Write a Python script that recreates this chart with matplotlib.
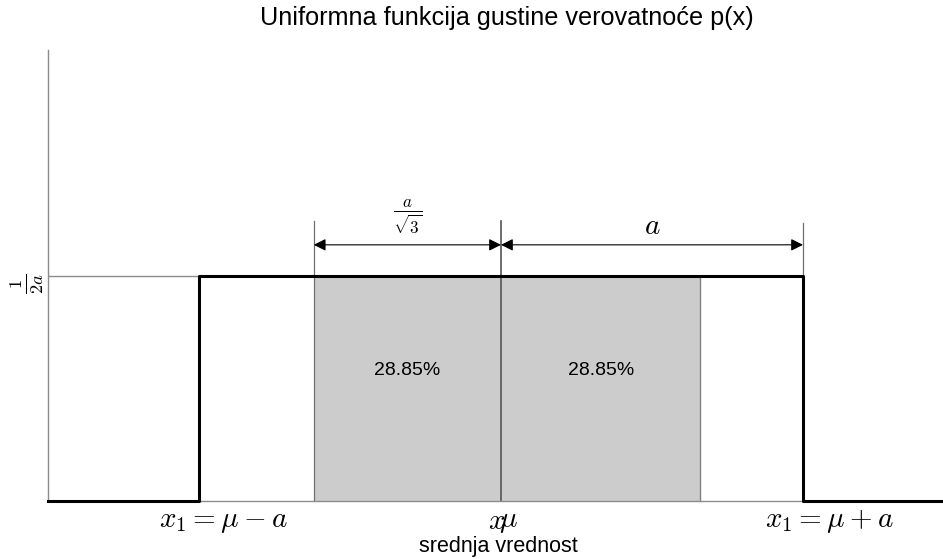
import matplotlib
matplotlib.use("Agg")
import matplotlib.pyplot as plt

plt.rcParams["mathtext.fontset"] = "cm"
plt.rcParams["font.family"] = ["Liberation Sans", "DejaVu Sans"]

# Uniform density on [mu - a, mu + a]
mu = 0.0
a = 1.0
x_pdf = [-1.5, -1.0, -1.0, 1.0, 1.0, 1.5]
y_pdf = [0.0, 0.0, 0.5, 0.5, 0.0, 0.0]
density = 0.5

# shaded band around the mean and the share of area on each side
shade_lo, shade_hi = -0.62, 0.66
shares = [28.85, 28.85]

arrow_y = 0.568
ext_top = 0.621

# x-axis labels: position, text, horizontal offset (px)
tick_pos = [-1.0, 0.0, 0.0, 1.0]
tick_labels = [r"$x_1=\mu-a$", r"$x$", r"$\mu$", r"$x_1=\mu+a$"]
tick_shift_px = [24, -4, 7, 26]

fig = plt.figure(figsize=(9.43, 5.59), dpi=100)
ax = fig.add_axes([48 / 943, 58 / 559, 906 / 943, 451 / 559])
ax.set_xlim(-1.5, 1.5)
ax.set_ylim(0, 1)

for side in ("top", "right"):
    ax.spines[side].set_visible(False)
for side in ("left", "bottom"):
    ax.spines[side].set_color("#8c8c8c")
    ax.spines[side].set_linewidth(1.0)

# shaded central band
ax.fill_between([shade_lo, mu], 0, density, color="#cccccc", lw=0)
ax.fill_between([mu, shade_hi], 0, density, color="#cccccc", lw=0)
ax.plot([shade_hi, shade_hi], [0, density], color="#808080", lw=1.0)

# extension lines for the dimension arrows
ax.plot([shade_lo, shade_lo], [0, ext_top], color="#707070", lw=0.9)
ax.plot([mu, mu], [0, ext_top], color="#555555", lw=1.2)
ax.plot([mu + a, mu + a], [density, ext_top - 0.005], color="#707070", lw=0.9)

# guide from the axis to the density level
ax.plot([-1.5, mu - a], [density, density], color="#8c8c8c", lw=1.0)

# density curve
ax.plot(x_pdf, y_pdf, color="black", lw=2.2, clip_on=False, zorder=5)

# dimension arrows
arrow_kw = dict(arrowstyle="<|-|>", color="black", lw=0.8,
                mutation_scale=18, shrinkA=0, shrinkB=0)
ax.annotate("", xy=(mu, arrow_y), xytext=(shade_lo, arrow_y), arrowprops=arrow_kw)
ax.annotate("", xy=(mu + a, arrow_y), xytext=(mu, arrow_y), arrowprops=arrow_kw)
ax.text((shade_lo + mu) / 2, arrow_y + 0.02, r"$\frac{a}{\sqrt{3}}$",
        ha="center", va="bottom", fontsize=17.5)
ax.text((mu + mu + a) / 2, arrow_y + 0.01, r"$a$",
        ha="center", va="bottom", fontsize=21)

# share labels
ax.text((shade_lo + mu) / 2, 0.289, f"{shares[0]:.2f}%", ha="center", va="center", fontsize=14)
ax.text((mu + shade_hi) / 2, 0.289, f"{shares[1]:.2f}%", ha="center", va="center", fontsize=14)

# axis labels drawn below the baseline
ax.set_xticks([])
ax.set_yticks([])
for pos, txt, dx in zip(tick_pos, tick_labels, tick_shift_px):
    ax.annotate(txt, xy=(pos, 0), xycoords="data",
                xytext=(dx * 0.72, -6 * 0.72), textcoords="offset points",
                ha="center", va="top", fontsize=21, annotation_clip=False)

ax.annotate(r"$\frac{1}{2a}$", xy=(0, density), xycoords=("axes fraction", "data"),
            xytext=(-21 * 0.72, -8 * 0.72), textcoords="offset points",
            ha="center", va="center", rotation=90, fontsize=19, annotation_clip=False)

fig.text(498 / 943, 1 - 536 / 559, "srednja vrednost", ha="center", va="top", fontsize=15.5)
fig.text(507 / 943, 1 - 18 / 559, "Uniformna funkcija gustine verovatnoće p(x)",
         ha="center", va="center", fontsize=18.2)

fig.savefig("out.png", dpi=100)
